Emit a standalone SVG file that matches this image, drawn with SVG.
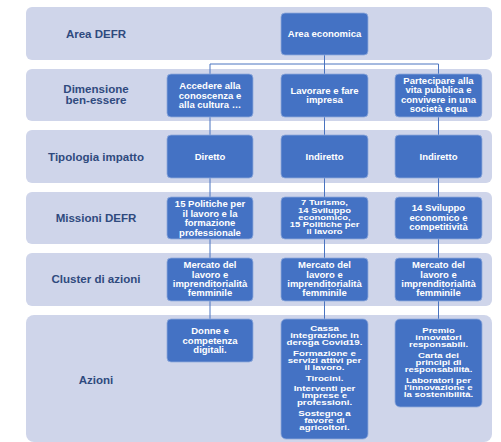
<svg xmlns="http://www.w3.org/2000/svg" width="501" height="442" viewBox="0 0 501 442">
<style>
.band{fill:#CFD5EA;}
.lbl text{font-family:"Liberation Sans",Arial,sans-serif;font-weight:bold;font-size:10.5px;fill:#2F4A7E;text-anchor:middle;}
.node rect{fill:#4472C4;stroke:#8FAADC;stroke-width:0.8;}
.node text{font-family:"Liberation Sans",Arial,sans-serif;font-weight:bold;font-size:8.2px;fill:#FFFFFF;text-anchor:middle;}
.node .d text{font-size:8px;}
.conn{stroke:#4A74C0;stroke-width:1;fill:none;}
</style>
<rect width="501" height="442" fill="#FFFFFF"/>
<g id="bands">
<rect class="band" x="26" y="7" width="466" height="53" rx="6"/>
<rect class="band" x="26" y="69" width="466" height="52" rx="6"/>
<rect class="band" x="26" y="130" width="466" height="53" rx="6"/>
<rect class="band" x="26" y="192" width="466" height="52" rx="6"/>
<rect class="band" x="26" y="253" width="466" height="53" rx="6"/>
<rect class="band" x="26" y="315" width="466" height="127" rx="8"/>
</g>
<g id="labels" class="lbl">
<g transform="translate(96 0) scale(1.1 1)">
<text x="0" y="38">Area DEFR</text>
<text x="0" y="93">Dimensione</text>
<text x="0" y="104">ben-essere</text>
<text x="0" y="161">Tipologia impatto</text>
<text x="0" y="222">Missioni DEFR</text>
<text x="0" y="283">Cluster di azioni</text>
<text x="0" y="384">Azioni</text>
</g>
</g>
<g id="connectors">
<path class="conn" d="M324.5 55 V64 M210 64 H438.5 M210 64 V74 M324.5 64 V74 M438.5 64 V74"/>
<path class="conn" d="M210 117 V135 M324.5 117 V135 M438.5 117 V135"/>
<path class="conn" d="M210 178 V197 M324.5 178 V197 M438.5 178 V197"/>
<path class="conn" d="M210 239 V258 M324.5 239 V258 M438.5 239 V258"/>
<path class="conn" d="M210 301 V319 M324.5 301 V319 M438.5 301 V319"/>
</g>
<g id="n-area" class="node">
<rect x="281" y="13" width="87" height="42" rx="4"/>
<g transform="translate(324.5 0) scale(1.16 1)"><text x="0" y="37">Area economica</text></g>
</g>
<g id="n-dim1" class="node">
<rect x="167" y="74" width="86" height="43" rx="4"/>
<g transform="translate(210 0) scale(1.16 1)">
<text x="0" y="89">Accedere alla</text>
<text x="0" y="99">conoscenza e</text>
<text x="0" y="108.5">alla cultura …</text>
</g>
</g>
<g id="n-dim2" class="node">
<rect x="281" y="74" width="87" height="43" rx="4"/>
<g transform="translate(324.5 0) scale(1.16 1)">
<text x="0" y="94">Lavorare e fare</text>
<text x="0" y="103.5">impresa</text>
</g>
</g>
<g id="n-dim3" class="node">
<rect x="395" y="74" width="87" height="43" rx="4"/>
<g transform="translate(438.5 0) scale(1.16 1)">
<text x="0" y="84">Partecipare alla</text>
<text x="0" y="93.5">vita pubblica e</text>
<text x="0" y="103">convivere in una</text>
<text x="0" y="112">società equa</text>
</g>
</g>
<g id="n-tip1" class="node">
<rect x="167" y="135" width="86" height="43" rx="4"/>
<g transform="translate(210 0) scale(1.16 1)"><text x="0" y="160">Diretto</text></g>
</g>
<g id="n-tip2" class="node">
<rect x="281" y="135" width="87" height="43" rx="4"/>
<g transform="translate(324.5 0) scale(1.16 1)"><text x="0" y="160">Indiretto</text></g>
</g>
<g id="n-tip3" class="node">
<rect x="395" y="135" width="87" height="43" rx="4"/>
<g transform="translate(438.5 0) scale(1.16 1)"><text x="0" y="160">Indiretto</text></g>
</g>
<g id="n-mis1" class="node">
<rect x="167" y="197" width="86" height="42" rx="4"/>
<g transform="translate(210 0) scale(1.16 1)">
<text x="0" y="207">15 Politiche per</text>
<text x="0" y="217">il lavoro e la</text>
<text x="0" y="226.5">formazione</text>
<text x="0" y="236">professionale</text>
</g>
</g>
<g id="n-mis2" class="node">
<rect x="281" y="197" width="87" height="42" rx="4"/>
<g class="d" transform="translate(324.5 0) scale(1.18 1)">
<text x="0" y="205.5">7 Turismo,</text>
<text x="0" y="212.7">14 Sviluppo</text>
<text x="0" y="219.9">economico,</text>
<text x="0" y="227.1">15 Politiche per</text>
<text x="0" y="234.3">il lavoro</text>
</g>
</g>
<g id="n-mis3" class="node">
<rect x="395" y="197" width="87" height="42" rx="4"/>
<g transform="translate(438.5 0) scale(1.16 1)">
<text x="0" y="211">14 Sviluppo</text>
<text x="0" y="221">economico e</text>
<text x="0" y="230">competitività</text>
</g>
</g>
<g id="n-clu1" class="node">
<rect x="167" y="258" width="86" height="43" rx="4"/>
<g transform="translate(210 0) scale(1.16 1)">
<text x="0" y="268">Mercato del</text>
<text x="0" y="278">lavoro e</text>
<text x="0" y="287">imprenditorialità</text>
<text x="0" y="296.5">femminile</text>
</g>
</g>
<g id="n-clu2" class="node">
<rect x="281" y="258" width="87" height="43" rx="4"/>
<g transform="translate(324.5 0) scale(1.16 1)">
<text x="0" y="268">Mercato del</text>
<text x="0" y="278">lavoro e</text>
<text x="0" y="287">imprenditorialità</text>
<text x="0" y="296.5">femminile</text>
</g>
</g>
<g id="n-clu3" class="node">
<rect x="395" y="258" width="87" height="43" rx="4"/>
<g transform="translate(438.5 0) scale(1.16 1)">
<text x="0" y="268">Mercato del</text>
<text x="0" y="278">lavoro e</text>
<text x="0" y="287">imprenditorialità</text>
<text x="0" y="296.5">femminile</text>
</g>
</g>
<g id="n-az1" class="node">
<rect x="167" y="319" width="86" height="43" rx="4"/>
<g transform="translate(210 0) scale(1.16 1)">
<text x="0" y="334">Donne e</text>
<text x="0" y="344">competenza</text>
<text x="0" y="353">digitali.</text>
</g>
</g>
<g id="n-az2" class="node">
<rect x="281" y="319" width="87" height="120" rx="5"/>
<g class="d" transform="translate(324.5 0) scale(1.22 1)">
<text x="0" y="331">Cassa</text>
<text x="0" y="338.2">integrazione in</text>
<text x="0" y="345.4">deroga Covid19.</text>
<text x="0" y="356">Formazione e</text>
<text x="0" y="363.2">servizi attivi per</text>
<text x="0" y="370.4">il lavoro.</text>
<text x="0" y="381">Tirocini.</text>
<text x="0" y="391">Interventi per</text>
<text x="0" y="398.2">imprese e</text>
<text x="0" y="405.4">professioni.</text>
<text x="0" y="416">Sostegno a</text>
<text x="0" y="423.2">favore di</text>
<text x="0" y="430.4">agricoltori.</text>
</g>
</g>
<g id="n-az3" class="node">
<rect x="395" y="319" width="87" height="88" rx="5"/>
<g class="d" transform="translate(438.5 0) scale(1.2 1)">
<text x="0" y="333">Premio</text>
<text x="0" y="340.2">innovatori</text>
<text x="0" y="347.4">responsabili.</text>
<text x="0" y="358">Carta dei</text>
<text x="0" y="365.2">principi di</text>
<text x="0" y="372.4">responsabilità.</text>
<text x="0" y="383">Laboratori per</text>
<text x="0" y="390.2">l'innovazione e</text>
<text x="0" y="397.4">la sostenibilità.</text>
</g>
</g>
</svg>
